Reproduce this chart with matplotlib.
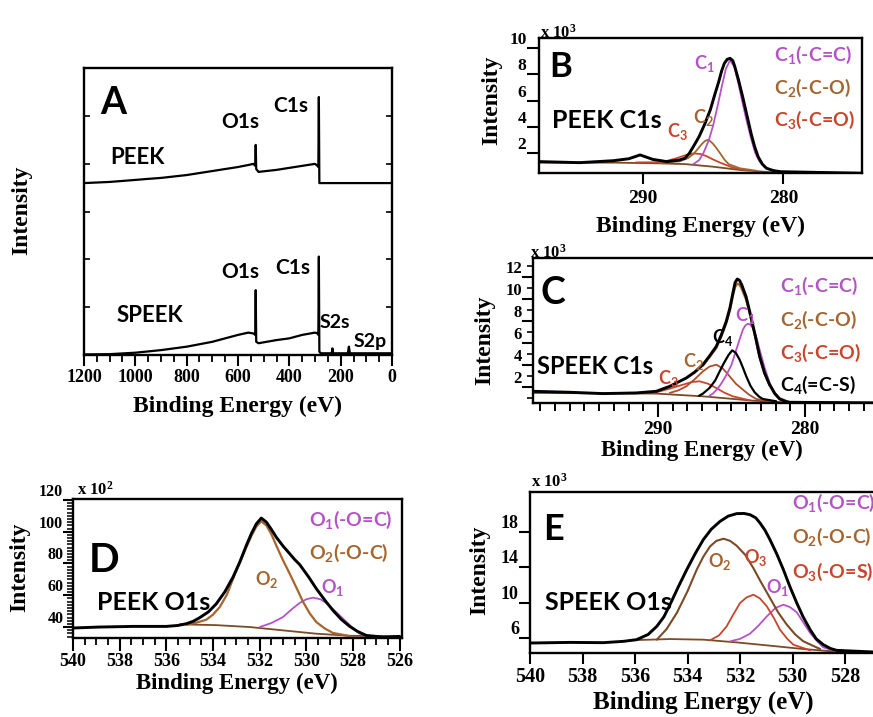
import matplotlib
matplotlib.use('Agg')
import matplotlib.pyplot as plt
from matplotlib.ticker import MultipleLocator, FixedLocator

plt.rcParams['font.family'] = 'Liberation Serif'
plt.rcParams['font.weight'] = 'bold'
plt.rcParams['mathtext.default'] = 'regular'

# ---------------- data ----------------
# Panel A: survey spectra (arbitrary units, 0-100 axis)
A_PEEK_E = [1200, 1100, 1000, 960, 900, 800, 700, 600, 560, 540, 533, 531, 529, 520, 450, 400, 350, 300, 290, 287,
            285, 283, 278, 200, 100, 0]
A_PEEK_I = [59.9, 60.3, 61.0, 61.3, 61.7, 62.7, 64.1, 65.5, 66.2, 66.6, 65.9, 73.2, 64.8, 63.8, 64.5, 65.2, 65.9, 66.6,
            65.9, 65.5, 89.9, 59.9, 59.9, 59.9, 59.9, 59.9]
A_SPEEK_E = [1200, 1100, 1000, 900, 800, 700, 650, 600, 560, 540, 533, 531, 529, 520, 450, 400, 350, 300, 290, 287,
             285, 283, 278, 235, 232, 229, 172, 168, 164, 100, 0]
A_SPEEK_I = [0.2, 0.3, 0.8, 1.7, 2.9, 4.6, 5.8, 7.0, 7.8, 7.5, 7.0, 22.6, 4.6, 4.1, 5.2, 5.8, 7.0, 7.8, 7.5, 7.0,
             34.3, 1.2, 0.6, 0.6, 2.3, 0.6, 0.6, 2.9, 0.6, 0.6, 0.6]

# Panel B: PEEK C1s (x10^3)
B_ENV_E = [297.4, 294.5, 292.1, 291.0, 290.2, 289.3, 288.3, 287.4, 287.0, 286.7, 286.4, 286.0, 285.6, 285.2, 284.9,
           284.6, 284.4, 284.2, 284.0, 283.8, 283.6, 283.45, 283.2, 282.9, 282.6, 282.3, 282.05, 281.8, 281.5, 281.2,
           280.7, 280.2, 274.4]
B_ENV_I = [1.34, 1.26, 1.41, 1.56, 1.85, 1.51, 1.34, 1.46, 1.6, 1.97, 2.5, 3.25, 4.2, 5.3, 6.4,
           7.45, 8.25, 8.85, 9.15, 9.23, 9.05, 8.57, 7.6, 6.3, 4.9, 3.5, 2.5, 1.72, 1.15, 0.83,
           0.65, 0.57, 0.45]
B_C1_E = [286.4, 286.0, 285.7, 285.3, 285.0, 284.7, 284.4, 284.1, 283.8, 283.5, 283.2, 282.9, 282.6, 282.3, 282.0,
          281.7, 281.3, 280.8, 280.2]
B_C1_I = [1.15, 1.45, 1.97, 3.0, 4.1, 5.5, 7.0, 8.4, 9.08, 8.6, 7.3, 5.8, 4.4, 3.1, 2.0,
          1.35, 0.9, 0.68, 0.57]
B_C2_E = [288.8, 287.4, 286.8, 286.4, 286.1, 285.8, 285.6, 285.4, 285.2, 285.0, 284.75, 284.5, 284.2, 283.9, 283.1,
          281.9]
B_C2_I = [1.24, 1.36, 1.6, 1.92, 2.3, 2.69, 2.9, 3.0, 2.9, 2.69, 2.35, 1.97, 1.5, 1.15, 0.83,
          0.64]
B_C3_E = [290.5, 288.8, 288.2, 287.6, 287.0, 286.4, 285.9, 285.5, 285.0, 284.5, 283.6, 282.6]
B_C3_I = [1.28, 1.29, 1.42, 1.60, 1.82, 1.97, 1.92, 1.77, 1.5, 1.26, 0.88, 0.69]
B_BG_E = [297.4, 292.0, 289.0, 287.0, 285.0, 283.0, 281.0, 280.0, 274.4]
B_BG_I = [1.26, 1.26, 1.21, 1.15, 0.95, 0.69, 0.54, 0.49, 0.45]

# Panel C: SPEEK C1s (x10^3)
C_ENV_E = [298.55, 296.0, 293.74, 291.47, 290.11, 289.2, 288.07, 287.5, 286.94, 286.5, 286.03, 285.7, 285.35, 285.1,
           284.9, 284.75, 284.6, 284.45, 284.3, 284.0, 283.76, 283.4, 283.08, 282.75, 282.4, 282.05, 281.72, 281.3,
           281.04, 274.6]
C_ENV_I = [1.61, 1.52, 1.40, 1.46, 1.61, 2.06, 2.82, 3.35, 4.03, 4.8, 5.69, 6.7, 7.97, 9.2,
           10.54, 11.5, 11.82, 11.7, 11.3, 10.2, 8.88, 6.8, 4.79, 3.3, 2.21, 1.4, 0.91, 0.68,
           0.61, 0.55]
C_FIT_E = [286.94, 286.5, 286.03, 285.7, 285.35, 285.1, 284.9, 284.75, 284.6, 284.45, 284.3, 284.0, 283.76, 283.4,
           283.08, 282.75, 282.4]
C_FIT_I = [3.95, 4.7, 5.55, 6.55, 7.8, 9.0, 10.3, 11.1, 11.4, 11.3, 10.95, 9.95, 8.75, 6.7,
           4.7, 3.25, 2.15]
C_C4_E = [287.2, 286.94, 286.49, 286.1, 285.8, 285.5, 285.2, 284.95, 284.7, 284.44, 284.2, 283.99, 283.7, 283.42,
          283.1, 282.86, 281.95]
C_C4_I = [1.2, 1.40, 1.91, 2.6, 3.42, 4.2, 4.9, 5.33, 5.1, 4.48, 3.7, 2.97, 2.1, 1.52,
          1.1, 0.91, 0.70]
C_C1_E = [286.5, 286.26, 285.9, 285.6, 285.3, 285.0, 284.67, 284.4, 284.22, 284.05, 283.88, 283.7, 283.54, 283.3,
          283.08, 282.75, 282.4, 282.05, 281.72, 281.04]
C_C1_I = [1.2, 1.40, 1.9, 2.5, 3.2, 4.0, 5.39, 6.5, 7.21, 7.6, 7.76, 7.65, 7.36, 6.5,
          5.39, 3.8, 2.36, 1.5, 1.0, 0.64]
C_C2_E = [289.2, 288.6, 288.07, 287.5, 286.94, 286.5, 286.03, 285.6, 285.12, 284.7, 284.22, 283.8, 283.31, 282.4]
C_C2_I = [1.46, 1.7, 2.06, 2.7, 3.42, 3.85, 4.03, 3.7, 2.97, 2.3, 1.76, 1.3, 0.91, 0.67]
C_C3_E = [290.11, 289.2, 288.3, 287.7, 287.17, 286.6, 286.03, 285.5, 284.9, 283.76]
C_C3_I = [1.52, 1.85, 2.21, 2.45, 2.52, 2.3, 1.91, 1.5, 1.15, 0.79]
C_BG_E = [298.55, 290.11, 286.94, 283.54, 281.04, 274.6]
C_BG_I = [1.46, 1.40, 1.15, 0.76, 0.58, 0.55]

# Panel D: PEEK O1s (x10^2)
D_ENV_E = [540, 538.86, 537.43, 536.0, 535.5, 535.14, 534.85, 534.57, 534.2, 533.86, 533.5, 533.14, 532.85, 532.57,
           532.35, 532.14, 531.93, 531.71, 531.5, 531.29, 531.0, 530.71, 530.5, 530.29, 529.9, 529.57, 529.2,
           528.86, 528.5, 528.14, 527.8, 527.43, 526.71, 526.0]
D_ENV_I = [39.4, 40.0, 40.4, 40.4, 41.0, 42.1, 43.6, 45.9, 49.5, 54.6, 62.0, 71.5, 81.0, 91.4,
           99.0, 105.0, 108.6, 106.0, 101.5, 96.6, 91.0, 86.1, 82.5, 79.4, 71.5, 64.1, 56.8,
           50.5, 44.8, 40.4, 37.2, 34.7, 33.7, 34.1]
D_O2_E = [535.14, 534.7, 534.29, 534.0, 533.71, 533.4, 533.14, 532.85, 532.57, 532.35, 532.14, 531.93, 531.71, 531.5,
          531.29, 531.0, 530.71, 530.4, 530.14, 529.85, 529.57, 529.2, 528.86, 528.14]
D_O2_I = [41.5, 42.8, 44.6, 47.8, 52.6, 60.5, 70.4, 80.5, 90.3, 97.5, 103.3, 106.6, 103.9, 98.5,
          91.4, 82.0, 73.5, 64.0, 55.8, 48.5, 43.1, 39.0, 36.3, 34.3]
D_O1_E = [532.0, 531.5, 531.0, 530.6, 530.29, 530.0, 529.71, 529.4, 529.14, 528.8, 528.43, 528.05, 527.71, 527.14]
D_O1_I = [40.0, 42.5, 46.3, 51.5, 55.1, 57.5, 58.5, 57.5, 55.1, 50.5, 45.3, 40.0, 35.8, 34.1]
D_BG_E = [535.43, 533.86, 532.43, 531.0, 529.57, 528.14, 526.0]
D_BG_I = [41.7, 41.2, 40.0, 37.9, 35.8, 34.5, 34.1]

# Panel E: SPEEK O1s (x10^3)
E_ENV_E = [540, 538.48, 537.21, 536.44, 535.94, 535.5, 535.17, 534.9, 534.67, 534.35, 534.03, 533.7, 533.4, 533.1,
           532.76, 532.45, 532.13, 531.85, 531.62, 531.4, 531.24, 531.05, 530.86, 530.6, 530.35, 530.1, 529.84,
           529.6, 529.33, 529.1, 528.83, 528.55, 528.32, 526.6]
E_ENV_I = [5.43, 5.50, 5.47, 5.62, 5.81, 6.4, 7.32, 8.4, 9.77, 11.8, 13.74, 15.6, 17.13, 18.3,
           19.21, 19.8, 20.08, 20.1, 19.96, 19.6, 19.02, 18.2, 17.13, 15.5, 13.74, 11.8, 9.96,
           8.4, 6.94, 5.9, 5.24, 4.8, 4.60, 4.37]
E_O2_E = [535.17, 534.8, 534.41, 534.0, 533.65, 533.4, 533.14, 532.9, 532.63, 532.38, 532.13, 531.8, 531.49, 531.2,
          530.86, 530.55, 530.22, 529.9, 529.59, 528.95]
E_O2_I = [5.81, 7.0, 8.83, 11.3, 13.74, 15.2, 16.38, 17.0, 17.24, 17.0, 16.45, 15.4, 13.9, 12.3,
          10.53, 8.9, 7.51, 6.4, 5.62, 4.75]
E_O3_E = [533.14, 532.8, 532.51, 532.25, 532.0, 531.75, 531.49, 531.25, 530.98, 530.7, 530.48, 530.2, 529.97, 529.33]
E_O3_I = [5.74, 6.3, 7.32, 8.7, 9.96, 10.6, 10.9, 10.5, 9.58, 8.2, 6.94, 5.9, 5.24, 4.60]
E_O1_E = [532.38, 532.0, 531.62, 531.3, 530.98, 530.65, 530.35, 530.1, 529.84, 529.6, 529.33, 529.05, 528.83, 528.32]
E_O1_I = [5.62, 5.9, 6.49, 7.4, 8.45, 9.4, 9.77, 9.5, 8.91, 7.8, 6.56, 5.6, 4.94, 4.45]
E_BG_E = [536.19, 534.67, 533.4, 532.13, 530.86, 529.59, 528.32, 526.6]
E_BG_I = [5.74, 5.88, 5.81, 5.5, 5.13, 4.75, 4.45, 4.37]

# tick labels
A_XTICKS = [1200, 1000, 800, 600, 400, 200, 0]
B_XTICKS = [290, 280]
B_YTICKS = [2, 4, 6, 8, 10]
C_XTICKS = [290, 280]
C_YTICKS = [2, 4, 6, 8, 10, 12]
D_XTICKS = [540, 538, 536, 534, 532, 530, 528, 526]
D_YTICKS = [40, 60, 80, 100, 120]
E_XTICKS = [540, 538, 536, 534, 532, 530, 528]
E_YTICKS = [6, 10, 14, 18]

# ---------------- styling ----------------
PURPLE = '#B553C6'
BROWN = '#A5652F'
RED = '#C8452C'
C2RED = '#AC4E2C'
BGC = '#7B4A27'
SANS = 'Lato'
SERIF = 'Liberation Serif'

W, H = 873, 717
fig = plt.figure(figsize=(W / 100, H / 100), dpi=100)


def add_ax(l, t, r, b):
    ax = fig.add_axes([l / W, 1 - b / H, (r - l) / W, (b - t) / H])
    for s in ax.spines.values():
        s.set_linewidth(1.7)
    return ax


def ftext(x, y, s, size, color='black', family=SANS, ha='center', va='center', rot=0):
    fig.text(x / W, 1 - y / H, s, fontsize=size, color=color, family=family,
             ha=ha, va=va, fontweight='bold', rotation=rot)


def yticks_bottom(ax):
    plt.setp(ax.get_yticklabels(), va='bottom')


LW_ENV = 2.1
LW_CMP = 1.3
KW = dict(solid_joinstyle='round', solid_capstyle='round')

# ---------------- Panel A ----------------
axA = add_ax(84, 68, 392, 355)
axA.plot(A_PEEK_E, A_PEEK_I, color='black', lw=1.6)
axA.plot(A_SPEEK_E, A_SPEEK_I, color='black', lw=1.6)
axA.set_xlim(1200, 0)
axA.set_ylim(0, 100)
axA.xaxis.set_major_locator(FixedLocator(A_XTICKS))
axA.xaxis.set_minor_locator(MultipleLocator(50))
axA.set_yticks([100 / 6 * k for k in range(1, 6)])
axA.set_yticklabels([])
axA.tick_params(axis='x', which='major', direction='out', length=8, width=1.5, labelsize=13, pad=2)
axA.tick_params(axis='x', which='minor', direction='out', length=5, width=1.3)
axA.tick_params(axis='y', which='major', direction='in', length=4, width=1.2, left=True, right=True)
ftext(238, 406, 'Binding Energy (eV)', 17, family=SERIF)
ftext(22, 210, 'Intensity', 17, family=SERIF, rot=90)
ftext(113, 103, 'A', 27)
ftext(240, 122, 'O1s', 15)
ftext(291, 106, 'C1s', 15)
ftext(137, 157, 'PEEK', 16)
ftext(240, 272, 'O1s', 15)
ftext(293, 268, 'C1s', 15)
ftext(150, 315, 'SPEEK', 16)
ftext(335, 323, 'S2s', 14)
ftext(370, 342, 'S2p', 14)

# ---------------- Panel B ----------------
axB = add_ax(539, 38, 862, 173)
axB.plot(B_BG_E, B_BG_I, color=BGC, lw=LW_CMP, **KW)
axB.plot(B_C3_E, B_C3_I, color=RED, lw=LW_CMP, **KW)
axB.plot(B_C2_E, B_C2_I, color=BROWN, lw=LW_CMP, **KW)
axB.plot(B_C1_E, B_C1_I, color=PURPLE, lw=LW_CMP, **KW)
axB.plot(B_ENV_E, B_ENV_I, color='black', lw=LW_ENV, **KW)
axB.set_xlim(297.4, 274.4)
axB.set_ylim(0.47, 10.78)
axB.set_xticks(B_XTICKS)
axB.set_yticks(B_YTICKS)
axB.tick_params(axis='x', direction='out', length=8, width=1.5, labelsize=14, pad=4)
axB.tick_params(axis='y', direction='out', length=9, width=1.5, labelsize=12.5, pad=0)
yticks_bottom(axB)
ftext(540, 33, 'x 10$^3$', 12, family=SERIF, ha='left')
ftext(700, 226, 'Binding Energy (eV)', 17, family=SERIF)
ftext(492, 100, 'Intensity', 17, family=SERIF, rot=90)
ftext(561, 67, 'B', 25)
ftext(552, 120, 'PEEK C1s', 18, ha='left')
ftext(704, 63, 'C$_1$', 13, color=PURPLE)
ftext(703, 118, 'C$_2$', 13, color=BROWN)
ftext(677, 131, 'C$_3$', 13, color=RED)
ftext(774, 55, 'C$_1$(-C=C)', 14, color=PURPLE, ha='left')
ftext(774, 88, 'C$_2$(-C-O)', 14, color=BROWN, ha='left')
ftext(774, 120, 'C$_3$(-C=O)', 14, color=RED, ha='left')

# ---------------- Panel C ----------------
axC = add_ax(533, 258, 885, 403)
axC.plot(C_BG_E, C_BG_I, color=BGC, lw=LW_CMP, **KW)
axC.plot(C_C3_E, C_C3_I, color=RED, lw=LW_CMP, **KW)
axC.plot(C_C2_E, C_C2_I, color=C2RED, lw=LW_CMP, **KW)
axC.plot(C_C1_E, C_C1_I, color=PURPLE, lw=LW_CMP, **KW)
axC.plot(C_C4_E, C_C4_I, color='black', lw=LW_CMP + 0.3, **KW)
axC.plot(C_FIT_E, C_FIT_I, color=BROWN, lw=LW_CMP + 0.4, **KW)
axC.plot(C_ENV_E, C_ENV_I, color='black', lw=LW_ENV, **KW)
axC.set_xlim(298.5, 274.55)
axC.set_ylim(0.545, 13.73)
axC.set_xticks(C_XTICKS)
axC.xaxis.set_minor_locator(MultipleLocator(1))
axC.set_yticks(C_YTICKS)
axC.yaxis.set_minor_locator(MultipleLocator(1))
axC.tick_params(axis='x', which='major', direction='out', length=10, width=1.5, labelsize=14, pad=3)
axC.tick_params(axis='x', which='minor', direction='out', length=6, width=1.4)
axC.tick_params(axis='y', which='major', direction='out', length=8, width=1.5, labelsize=12, pad=0)
axC.tick_params(axis='y', which='minor', direction='out', length=4, width=1.2)
yticks_bottom(axC)
ftext(530, 253, 'x 10$^3$', 12, family=SERIF, ha='left')
ftext(702, 450, 'Binding Energy (eV)', 16.5, family=SERIF)
ftext(485, 340, 'Intensity', 17, family=SERIF, rot=90)
ftext(553, 293, 'C', 27)
ftext(537, 367, 'SPEEK C1s', 17, ha='left')
ftext(668, 378, 'C$_3$', 13, color=RED)
ftext(693, 362, 'C$_2$', 13, color=BROWN)
ftext(723, 338, 'C$_4$', 13, color='black')
ftext(745, 316, 'C$_1$', 13, color=PURPLE)
ftext(780, 286, 'C$_1$(-C=C)', 14, color=PURPLE, ha='left')
ftext(780, 320, 'C$_2$(-C-O)', 14, color=BROWN, ha='left')
ftext(780, 353, 'C$_3$(-C=O)', 14, color=RED, ha='left')
ftext(780, 385, 'C$_4$(=C-S)', 14, color='black', ha='left')

# ---------------- Panel D ----------------
axD = add_ax(73, 499, 402, 638)
axD.plot(D_BG_E, D_BG_I, color=BGC, lw=LW_CMP, **KW)
axD.plot(D_O1_E, D_O1_I, color=PURPLE, lw=LW_CMP, **KW)
axD.plot(D_O2_E, D_O2_I, color=BROWN, lw=LW_CMP + 0.3, **KW)
axD.plot(D_ENV_E, D_ENV_I, color='black', lw=LW_ENV, **KW)
axD.set_xlim(540, 525.9)
axD.set_ylim(33.1, 120.6)
axD.set_xticks(D_XTICKS)
axD.xaxis.set_minor_locator(MultipleLocator(0.5))
axD.set_yticks(D_YTICKS)
axD.yaxis.set_minor_locator(MultipleLocator(2))
axD.tick_params(axis='x', which='major', direction='out', length=9, width=1.5, labelsize=13, pad=2)
axD.tick_params(axis='x', which='minor', direction='out', length=5, width=1.3)
axD.tick_params(axis='y', which='major', direction='out', length=7, width=1.5, labelsize=11.5, pad=0)
axD.tick_params(axis='y', which='minor', direction='out', length=4, width=1.1)
yticks_bottom(axD)
ftext(77, 490, 'x 10$^2$', 12, family=SERIF, ha='left')
ftext(237, 683, 'Binding Energy (eV)', 16.5, family=SERIF)
ftext(20, 567, 'Intensity', 17, family=SERIF, rot=90)
ftext(104, 560, 'D', 29)
ftext(97, 603, 'PEEK O1s', 18, ha='left')
ftext(267, 580, 'O$_2$', 13, color=BROWN)
ftext(333, 587, 'O$_1$', 13, color=PURPLE)
ftext(309, 520, 'O$_1$(-O=C)', 14, color=PURPLE, ha='left')
ftext(309, 553, 'O$_2$(-O-C)', 14, color=BROWN, ha='left')

# ---------------- Panel E ----------------
axE = add_ax(530, 492, 885, 653)
axE.plot(E_BG_E, E_BG_I, color=BGC, lw=LW_CMP, **KW)
axE.plot(E_O1_E, E_O1_I, color=PURPLE, lw=LW_CMP, **KW)
axE.plot(E_O3_E, E_O3_I, color=RED, lw=LW_CMP, **KW)
axE.plot(E_O2_E, E_O2_I, color=BGC, lw=LW_CMP + 0.2, **KW)
axE.plot(E_ENV_E, E_ENV_I, color='black', lw=LW_ENV, **KW)
axE.set_xlim(540, 526.48)
axE.set_ylim(4.30, 22.53)
axE.set_xticks(E_XTICKS)
axE.set_yticks(E_YTICKS)
axE.tick_params(axis='x', direction='out', length=8, width=1.5, labelsize=14.5, pad=2)
axE.tick_params(axis='y', direction='out', length=8, width=1.5, labelsize=13, pad=0)
yticks_bottom(axE)
ftext(531, 482, 'x 10$^3$', 12, family=SERIF, ha='left')
ftext(703, 702, 'Binding Energy (eV)', 18, family=SERIF)
ftext(480, 570, 'Intensity', 17, family=SERIF, rot=90)
ftext(553, 530, 'E', 26)
ftext(545, 602, 'SPEEK O1s', 18, ha='left')
ftext(720, 562, 'O$_2$', 13, color=BROWN)
ftext(756, 557, 'O$_3$', 13, color=RED)
ftext(778, 588, 'O$_1$', 13, color=PURPLE)
ftext(792, 503, 'O$_1$(-O=C)', 14, color=PURPLE, ha='left')
ftext(792, 537, 'O$_2$(-O-C)', 14, color=BROWN, ha='left')
ftext(792, 572, 'O$_3$(-O=S)', 14, color=RED, ha='left')

fig.savefig('out.png', dpi=100)
